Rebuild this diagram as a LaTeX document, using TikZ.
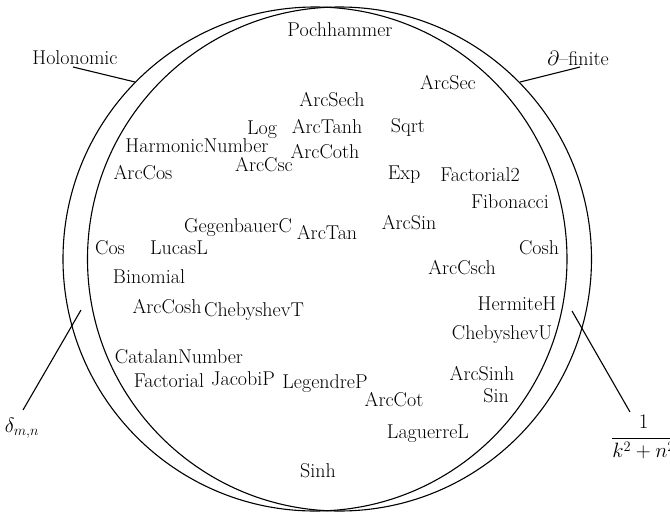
\documentclass[tikz,border=0pt]{standalone}
\begin{document}
\begin{tikzpicture}[x=1pt,y=-1pt,
  lbl/.style={inner sep=0pt, font=\fontsize{20}{24}\selectfont},
  ring/.style={line width=1.1pt},
  lead/.style={line width=1.1pt}]
\useasboundingbox (0,0) rectangle (670,512);
% the two classes
\draw[ring] (315,259) circle[radius=252];
\draw[ring] (339.5,259) circle[radius=252];
% class names and example sequences outside the rings
\node[lbl] (hol) at (75,58) {Holonomic};
\node[lbl] (dfin) at (578,58) {$\partial$--finite};
\node[lbl] (delta) at (22,428) {$\delta_{m,n}$};
\node[lbl, anchor=west, font=\fontsize{19.5}{23}\selectfont] (frac) at (611,437) {$\displaystyle\frac{1}{k^2+n^2}$};
\coordinate (holA) at (73,67);   \coordinate (holB) at (135,82);
\coordinate (dfA) at (580,67);   \coordinate (dfB) at (520,82);
\coordinate (dA) at (23,410);    \coordinate (dB) at (81,310);
\coordinate (fA) at (630,412);   \coordinate (fB) at (572,311);
\draw[lead] (holA) -- (holB);
\draw[lead] (dfA) -- (dfB);
\draw[lead] (dA) -- (dB);
\draw[lead] (fA) -- (fB);
% functions inside
\node[lbl] (n1) at (340,30) {Pochhammer};
\node[lbl] (n2) at (448,83) {ArcSec};
\node[lbl] (n3) at (332,100) {ArcSech};
\node[lbl] (n4) at (327,127) {ArcTanh};
\node[lbl] (n5) at (325,152) {ArcCoth};
\node[lbl] (n6) at (262,130) {Log};
\node[lbl] (n7) at (197,146) {HarmonicNumber};
\node[lbl] (n8) at (264,165) {ArcCsc};
\node[lbl] (n9) at (143,173) {ArcCos};
\node[lbl] (n10) at (408,127) {Sqrt};
\node[lbl] (n11) at (404,175) {Exp};
\node[lbl] (n12) at (480,175) {Factorial2};
\node[lbl] (n13) at (510,202) {Fibonacci};
\node[lbl] (n14) at (409,223) {ArcSin};
\node[lbl] (n15) at (539,248) {Cosh};
\node[lbl] (n16) at (238,228) {GegenbauerC};
\node[lbl] (n17) at (327,233) {ArcTan};
\node[lbl] (n18) at (110,248) {Cos};
\node[lbl] (n19) at (179,248) {LucasL};
\node[lbl] (n20) at (149,277) {Binomial};
\node[lbl] (n21) at (167,307) {ArcCosh};
\node[lbl] (n22) at (254,312) {ChebyshevT};
\node[lbl] (n23) at (179,357) {CatalanNumber};
\node[lbl] (n24) at (169,381) {Factorial};
\node[lbl] (n25) at (243,379) {JacobiP};
\node[lbl] (n26) at (325,384) {LegendreP};
\node[lbl] (n27) at (462,268) {ArcCsch};
\node[lbl] (n28) at (517,304) {HermiteH};
\node[lbl] (n29) at (502,335) {ChebyshevU};
\node[lbl] (n30) at (482,374) {ArcSinh};
\node[lbl] (n31) at (496,396) {Sin};
\node[lbl] (n32) at (394,400) {ArcCot};
\node[lbl] (n33) at (428,434) {LaguerreL};
\node[lbl] (n34) at (318,471) {Sinh};
\end{tikzpicture}
\end{document}
